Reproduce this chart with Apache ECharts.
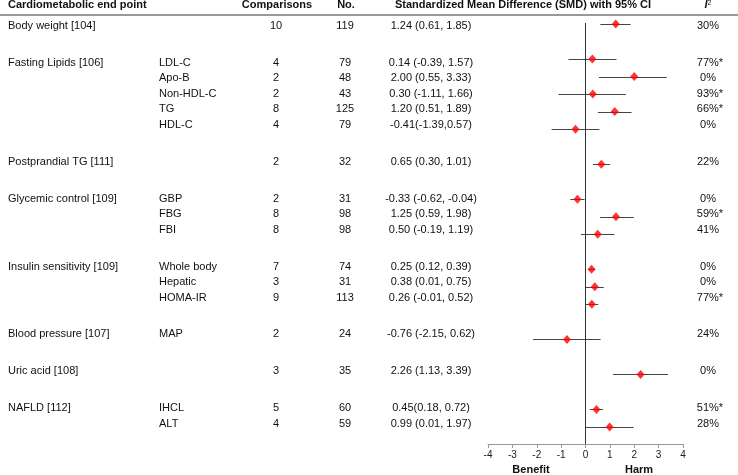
<!DOCTYPE html>
<html lang="en">
<head>
<meta charset="UTF-8">
<title>Forest plot</title>
<script src="https://cdn.jsdelivr.net/npm/echarts@6/dist/echarts.min.js"></script>
<style>
  html, body { margin: 0; padding: 0; background: #fff; }
  #chart { width: 738px; height: 475px; }
</style>
</head>
<body>
<div id="chart"></div>
<script>
// groups (first column)
var groupNames = ['Body weight [104]', 'Fasting Lipids [106]', 'Postprandial TG [111]', 'Glycemic control [109]',
                  'Insulin sensitivity [109]', 'Blood pressure [107]', 'Uric acid [108]', 'NAFLD [112]'];
// one entry per row
var rowGroup    = [0, 1, 1, 1, 1, 1, 2, 3, 3, 3, 4, 4, 4, 5, 6, 7, 7];
var subLabels   = ['', 'LDL-C', 'Apo-B', 'Non-HDL-C', 'TG', 'HDL-C', '', 'GBP', 'FBG', 'FBI',
                   'Whole body', 'Hepatic', 'HOMA-IR', 'MAP', '', 'IHCL', 'ALT'];
var comparisons = [10, 4, 2, 2, 8, 4, 2, 2, 8, 8, 7, 3, 9, 2, 3, 5, 4];
var sampleN     = [119, 79, 48, 43, 125, 79, 32, 31, 98, 98, 74, 31, 113, 24, 35, 60, 59];
var ciText      = ['1.24 (0.61, 1.85)', '0.14 (-0.39, 1.57)', '2.00 (0.55, 3.33)', '0.30 (-1.11, 1.66)',
                   '1.20 (0.51, 1.89)', '-0.41(-1.39,0.57)', '0.65 (0.30, 1.01)', '-0.33 (-0.62, -0.04)',
                   '1.25 (0.59, 1.98)', '0.50 (-0.19, 1.19)', '0.25 (0.12, 0.39)', '0.38 (0.01, 0.75)',
                   '0.26 (-0.01, 0.52)', '-0.76 (-2.15, 0.62)', '2.26 (1.13, 3.39)', '0.45(0.18, 0.72)',
                   '0.99 (0.01, 1.97)'];
var i2Text      = ['30%', '77%*', '0%', '93%*', '66%*', '0%', '22%', '0%', '59%*', '41%',
                   '0%', '0%', '77%*', '24%', '0%', '51%*', '28%'];
// plotted estimates, as drawn in the figure
var smdPlot     = [1.24, 0.28, 2.00, 0.30, 1.20, -0.41, 0.65, -0.33, 1.25, 0.50, 0.25, 0.38, 0.26, -0.76, 2.26, 0.45, 0.99];
var ciLowPlot   = [0.61, -0.70, 0.55, -1.11, 0.51, -1.39, 0.30, -0.62, 0.59, -0.19, 0.12, 0.01, -0.01, -2.15, 1.13, 0.18, 0.01];
var ciHighPlot  = [1.85, 1.27, 3.33, 1.66, 1.89, 0.57, 1.01, -0.04, 1.98, 1.19, 0.39, 0.75, 0.52, 0.62, 3.39, 0.72, 1.97];
var xTicks      = [-4, 4, 1];

var FONT = '"Liberation Sans", Arial, Helvetica, sans-serif';

// rows step 1, between groups a bigger gap
function rowPositions(gap) {
    var pos = [], p = 0;
    for (var i = 0; i < rowGroup.length; i++) {
        if (i > 0) p += (rowGroup[i] != rowGroup[i - 1]) ? gap : 1;
        pos.push(p);
    }
    return pos;
}
var markPos = rowPositions(2);
var textPos = rowPositions(2.38);

function txt(x, y, s, align, bold) {
    return {
        type: 'text', x: x, y: y, silent: true,
        style: {
            text: s, fill: '#111',
            fontSize: 11, fontFamily: FONT, fontWeight: bold ? 'bold' : 'normal',
            align: align, verticalAlign: 'middle',
            textAlign: align, textVerticalAlign: 'middle'
        }
    };
}

var chart = echarts.init(document.getElementById('chart'));

var option = {
    animation: false,
    backgroundColor: '#fff',
    grid: { left: 488, right: 55, top: 23, bottom: 31 },
    xAxis: {
        type: 'value', position: 'bottom',
        min: xTicks[0], max: xTicks[1], interval: xTicks[2],
        axisLine: { onZero: false, lineStyle: { color: '#999', width: 1 } },
        axisTick: { length: 4, lineStyle: { color: '#999' } },
        axisLabel: { fontSize: 10, color: '#222', fontFamily: FONT, margin: 6 },
        splitLine: { show: false }
    },
    yAxis: [
        { type: 'value', inverse: true, min: -0.057, max: 23.97, show: false },
        { type: 'value', inverse: true, min: -0.19, max: 26.97, show: false }
    ],
    graphic: [
        txt(8, 5, 'Cardiometabolic end point', 'left', true),
        txt(277, 5, 'Comparisons', 'center', true),
        txt(346, 5, 'No.', 'center', true),
        txt(523, 5, 'Standardized Mean Difference (SMD) with 95% CI', 'center', true),
        {
            type: 'text', x: 708, y: 5, silent: true,
            style: {
                text: '{i|I}{s|2}', align: 'center', verticalAlign: 'middle',
                textAlign: 'center', textVerticalAlign: 'middle',
                rich: {
                    i: { fontSize: 11, fontStyle: 'italic', fontWeight: 'bold', fontFamily: FONT, fill: '#111', color: '#111' },
                    s: { fontSize: 7, fontFamily: FONT, fill: '#111', color: '#111', verticalAlign: 'top' }
                }
            }
        },
        {
            type: 'line', silent: true,
            shape: { x1: 0, y1: 15, x2: 738, y2: 15 },
            style: { stroke: '#777', lineWidth: 1.4 }
        },
        txt(531, 470, 'Benefit', 'center', true),
        txt(639, 470, 'Harm', 'center', true)
    ],
    series: [
        {
            // table text
            type: 'custom', xAxisIndex: 0, yAxisIndex: 1, clip: false, silent: true,
            data: textPos.map(function (p, i) { return [0, p, i]; }),
            renderItem: function (params, api) {
                var i = api.value(2);
                var y = api.coord([0, api.value(1)])[1];
                var kids = [];
                if (i == 0 || rowGroup[i] != rowGroup[i - 1]) kids.push(txt(8, y, groupNames[rowGroup[i]], 'left'));
                if (subLabels[i]) kids.push(txt(159, y, subLabels[i], 'left'));
                kids.push(txt(276, y, String(comparisons[i]), 'center'));
                kids.push(txt(345, y, String(sampleN[i]), 'center'));
                kids.push(txt(431, y, ciText[i], 'center'));
                var star = i2Text[i].indexOf('*') >= 0;
                kids.push(txt(star ? 710 : 708, y, i2Text[i], 'center'));
                return { type: 'group', children: kids };
            }
        },
        {
            // confidence intervals
            type: 'custom', xAxisIndex: 0, yAxisIndex: 0, silent: true,
            data: markPos.map(function (p, i) { return [ciLowPlot[i], ciHighPlot[i], p]; }),
            renderItem: function (params, api) {
                var a = api.coord([api.value(0), api.value(2)]);
                var b = api.coord([api.value(1), api.value(2)]);
                var y = Math.round(a[1]) + 0.5;
                return {
                    type: 'line',
                    shape: { x1: a[0], y1: y, x2: b[0], y2: y },
                    style: { stroke: '#444', lineWidth: 1 }
                };
            },
            z: 2
        },
        {
            type: 'scatter', xAxisIndex: 0, yAxisIndex: 0, silent: true,
            symbol: 'diamond', symbolSize: [8, 9],
            itemStyle: { color: '#ff0000' },
            data: markPos.map(function (p, i) { return [smdPlot[i], p]; }),
            markLine: {
                silent: true, symbol: ['none', 'none'],
                label: { show: false },
                lineStyle: { color: '#333', width: 1, type: 'solid' },
                data: [{ xAxis: 0 }]
            },
            z: 3
        }
    ]
};
chart.setOption(option);
window.onresize = function () {
    chart.resize();
};
</script>
</body>
</html>
